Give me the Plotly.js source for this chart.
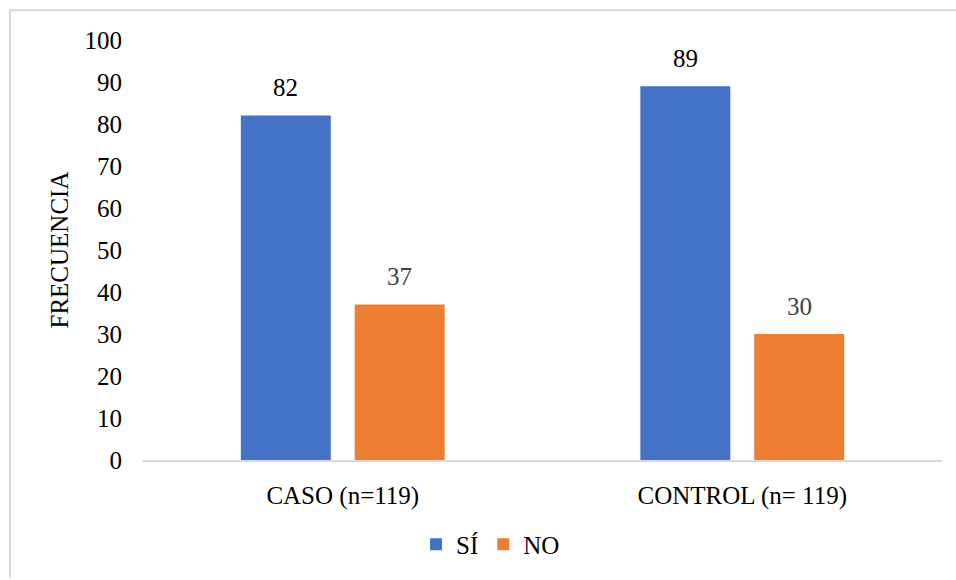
<!DOCTYPE html>
<html>
<head>
<meta charset="utf-8">
<script src="https://cdn.plot.ly/plotly-3.0.1.min.js"></script>
<style>html,body{margin:0;padding:0;background:#fff;}#chart{width:956px;height:580px;}</style>
</head>
<body>
<div id="chart"></div>
<script>
const categories = ["CASO (n=119)", "CONTROL (n= 119)"];
const siValues = [82, 89];
const noValues = [37, 30];
const seriesNames = ["SÍ", "NO"];
const yTicks = [0, 10, 20, 30, 40, 50, 60, 70, 80, 90, 100];

const W = 956, H = 580;
const M = {l: 143, r: 14, t: 40, b: 118};
const pw = W - M.l - M.r, ph = H - M.t - M.b;
const px = x => (x - M.l) / pw;
const py = y => (H - M.b - y) / ph;

const FAM = "Liberation Serif";
const font = {family: FAM, size: 25, color: "#000"};

const traces = [
  {type: "bar", name: seriesNames[0], x: categories, y: siValues,
   marker: {color: "#4472C4"}, hoverinfo: "none"},
  {type: "bar", name: seriesNames[1], x: categories, y: noValues,
   marker: {color: "#ED7D31"}, hoverinfo: "none"}
];

const annotations = [];
categories.forEach((c, i) => {
  annotations.push({x: c, y: siValues[i], xref: "x", yref: "y", text: String(siValues[i]),
    showarrow: false, xshift: -57, yshift: 28, yanchor: "middle",
    font: {family: FAM, size: 25, color: "#000"}});
  annotations.push({x: c, y: noValues[i], xref: "x", yref: "y", text: String(noValues[i]),
    showarrow: false, xshift: 57, yshift: 28, yanchor: "middle",
    font: {family: FAM, size: 25, color: "#404040"}});
});

const layout = {
  width: W, height: H,
  margin: M,
  paper_bgcolor: "#fff", plot_bgcolor: "#fff",
  font: font,
  barmode: "group", bargap: 0.43, bargroupgap: 0.21,
  showlegend: true,
  legend: {orientation: "h", x: 0.435, xanchor: "center", y: py(547), yanchor: "middle",
           font: {family: FAM, size: 25, color: "#000"}, itemwidth: 30, traceorder: "normal"},
  xaxis: {range: [-0.5, 1.5], showgrid: false, zeroline: false, showline: true,
          linecolor: "#d9d9d9", linewidth: 2, ticks: "", tickfont: font,
          ticklabelstandoff: 12, fixedrange: true},
  yaxis: {range: [0, 100], tickvals: yTicks, showgrid: false, zeroline: false, showline: false,
          ticks: "", tickfont: font, ticklabelstandoff: 20, fixedrange: true,
          title: {text: "FRECUENCIA", font: font, standoff: 8}},
  annotations: annotations,
  shapes: [
    {type: "line", xref: "paper", yref: "paper", x0: px(9), x1: px(956), y0: py(10), y1: py(10),
     line: {color: "#d9d9d9", width: 2}},
    {type: "line", xref: "paper", yref: "paper", x0: px(10), x1: px(10), y0: py(10), y1: py(580),
     line: {color: "#d9d9d9", width: 2}}
  ]
};

Plotly.newPlot("chart", traces, layout, {displayModeBar: false, staticPlot: true});
</script>
</body>
</html>
